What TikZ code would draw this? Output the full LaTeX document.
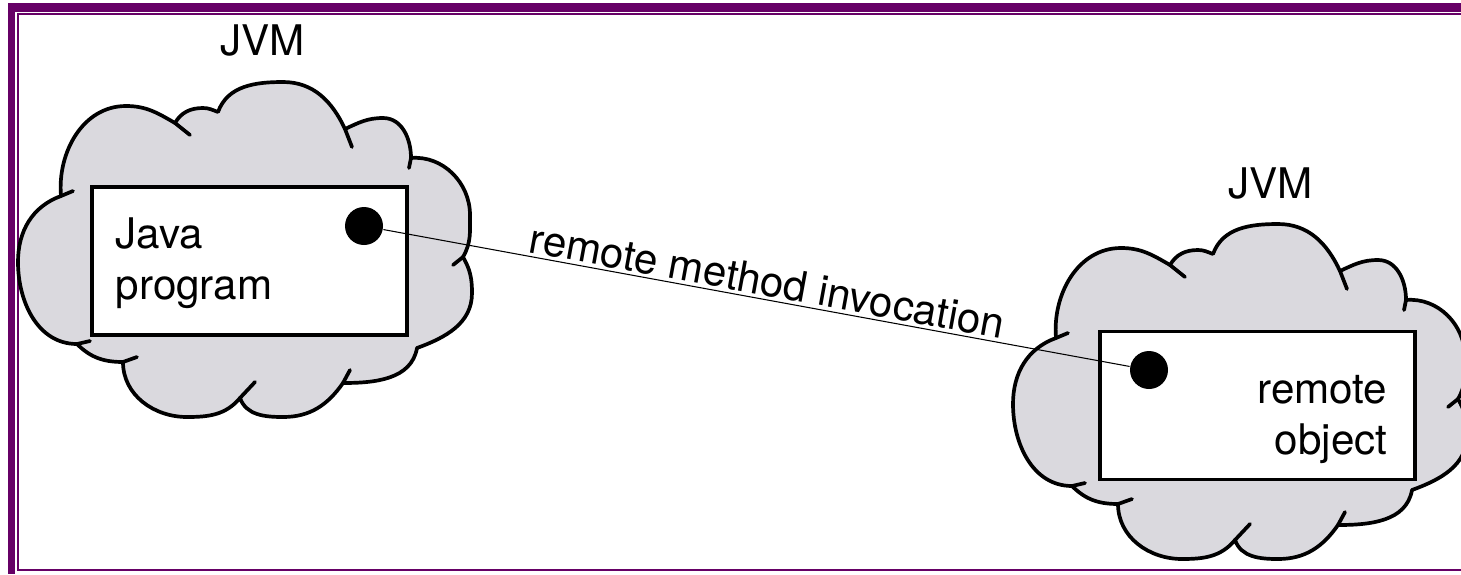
\documentclass[tikz,border=0pt]{standalone}
\usepackage{fontspec}
\setmainfont{TeX Gyre Heros}
\definecolor{framepurple}{RGB}{102,0,102}
\definecolor{cloudgray}{RGB}{218,217,222}

\begin{document}
\begin{tikzpicture}[jvmcloud/.style = {draw=black, fill=cloudgray, line width=1.05pt, line join=round}, cloudtail/.style = {draw=black, line width=1.05pt, line cap=round}, objbox/.style = {draw=black, fill=white, line width=1.05pt, minimum width=3.15cm, minimum height=1.48cm, inner sep=0pt}, blackdot/.style = {circle, fill=black, minimum size=0.38cm, inner sep=0pt}, lbl/.style = {font=\fontsize{12}{14.5}\selectfont, inner sep=0pt}]

    % 1. Frame
    \useasboundingbox (0,0) rectangle (14.61,-5.74);
    \fill[framepurple] (0.08,-0.03) rectangle (14.61,-0.115);
    \fill[framepurple] (0.08,-0.03) rectangle (0.15,-5.74);
    \draw[framepurple, line width=0.7pt] (14.61,-0.14) -- (0.18,-0.14) -- (0.18,-5.70) -- (14.61,-5.70);

    % 2. Two clouds (same outline, shifted)
    \foreach \cx/\cy in {0/0, 9.95/-1.42} {
        \begin{scope}[shift={(\cx,\cy)}]
            \path[jvmcloud] (0.61,-1.96)
                to[out=95,in=180] (1.26,-1.06) to[out=0,in=150] (1.75,-1.23)
                to[out=60,in=180] (2.03,-1.08) to[out=0,in=160] (2.18,-1.12)
                to[out=70,in=180] (2.83,-0.82) to[out=0,in=115] (3.45,-1.29)
                to[out=25,in=180] (3.83,-1.18) to[out=0,in=90] (4.11,-1.58)
                to[out=5,in=90] (4.70,-2.15) to[out=270,in=60] (4.63,-2.57)
                to[out=-60,in=90] (4.72,-2.93) to[out=270,in=20] (4.17,-3.48)
                to[out=-100,in=0] (3.43,-3.83)
                to[out=235,in=0] (2.83,-4.17) to[out=180,in=290] (2.40,-3.98)
                to[out=230,in=0] (1.87,-4.17) to[out=180,in=270] (1.23,-3.62)
                to[out=180,in=315] (0.77,-3.44)
                to[out=180,in=270] (0.18,-2.62) to[out=90,in=200] (0.61,-1.96) -- cycle;
            \draw[cloudtail] (0.61,-1.96) -- (0.73,-1.91)
                (1.75,-1.23) -- (1.90,-1.35)
                (3.45,-1.29) -- (3.52,-1.47)
                (4.11,-1.58) -- (4.09,-1.68)
                (4.63,-2.57) -- (4.53,-2.65)
                (3.43,-3.83) -- (3.50,-3.70)
                (2.40,-3.98) -- (2.55,-3.82)
                (1.23,-3.62) -- (1.37,-3.57)
                (0.77,-3.44) -- (0.90,-3.41);
        \end{scope}
    }

    % 3. Boxes and dots
    \node[objbox] (javabox) at (2.495,-2.61) {};
    \node[objbox] (objbox) at (12.575,-4.055) {};
    \node[blackdot] (calldot) at (3.64,-2.26) {};
    \node[blackdot] (objdot) at (11.49,-3.70) {};

    % 4. Texts
    \node[lbl, anchor=base] (jvmleft) at (2.625,-0.55) {JVM};
    \node[lbl, anchor=base] (jvmright) at (12.705,-1.98) {JVM};
    \node[lbl, anchor=north west, align=left] (javatext) at (1.15,-2.17) {Java\\program};
    \node[lbl, anchor=north east, align=right] (objtext) at (13.88,-3.75) {remote\\object};

    % 5. Remote call
    \draw[line width=0.3pt] (calldot) -- (objdot) node[lbl, pos=0.51, sloped, above, inner sep=0.8pt] (rmilabel) {remote method invocation};
\end{tikzpicture}
\end{document}
